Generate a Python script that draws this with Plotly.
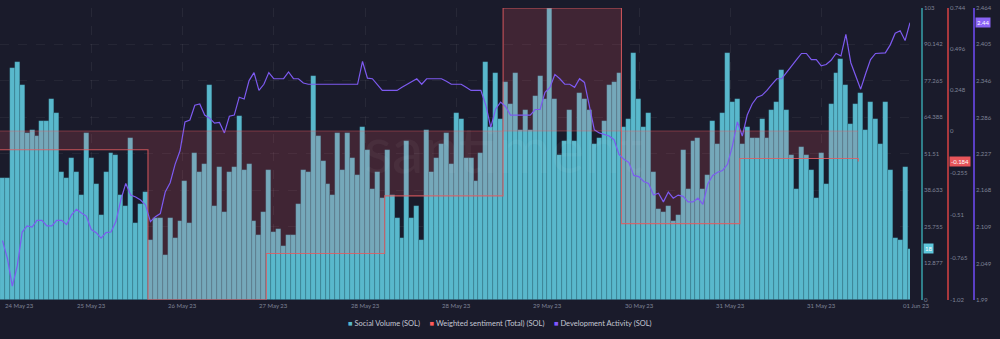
import pandas as pd
import plotly.graph_objects as go

# ---- data -------------------------------------------------------------
first_hour = "2023-05-24 18:00"

social_volume = [
    43, 43, 82, 84, 76, 59, 60, 58, 63, 63, 71, 66, 45, 43, 50, 45, 37, 59, 50, 41,
    30, 45, 52, 51, 37, 33, 57, 27, 34, 38, 21, 29, 29, 16, 29, 22, 28, 42, 27, 52,
    45, 48, 76, 33, 47, 31, 45, 47, 65, 46, 48, 28, 23, 31, 46, 24, 25, 19, 23, 23,
    34, 46, 45, 79, 58, 49, 41, 37, 59, 46, 59, 50, 44, 61, 53, 39, 45, 36, 53, 37,
    29, 22, 56, 29, 33, 21, 60, 45, 50, 55, 59, 48, 66, 64, 50, 50, 42, 52, 84, 61,
    80, 64, 77, 69, 80, 60, 67, 60, 72, 79, 71, 103, 71, 51, 56, 67, 56, 73, 71, 67,
    55, 57, 63, 76, 77, 80, 61, 64, 87, 71, 61, 66, 45, 32, 31, 33, 28, 30, 53, 39,
    56, 57, 39, 44, 63, 55, 66, 87, 70, 71, 55, 61, 57, 57, 64, 57, 67, 70, 81, 67,
    51, 39, 54, 51, 46, 36, 52, 41, 69, 80, 85, 76, 62, 69, 73, 60, 70, 64, 55, 70,
    46, 22, 21, 47, 18,
]

dev_activity = [
    2.086, 2.057, 2.012, 2.045, 2.100, 2.110, 2.108, 2.119, 2.119, 2.110,
    2.110, 2.119, 2.119, 2.112, 2.128, 2.137, 2.131, 2.126, 2.104, 2.099,
    2.090, 2.099, 2.100, 2.117, 2.152, 2.179, 2.160, 2.157, 2.152, 2.144,
    2.117, 2.125, 2.130, 2.165, 2.180, 2.210, 2.232, 2.279, 2.282, 2.306,
    2.308, 2.290, 2.285, 2.277, 2.278, 2.261, 2.288, 2.290, 2.319, 2.316,
    2.346, 2.359, 2.330, 2.340, 2.359, 2.349, 2.349, 2.349, 2.360, 2.349,
    2.349, 2.342, 2.340, 2.340, 2.340, 2.340, 2.340, 2.340, 2.340, 2.340,
    2.340, 2.340, 2.340, 2.377, 2.350, 2.349, 2.340, 2.330, 2.330, 2.330,
    2.330, 2.335, 2.340, 2.345, 2.349, 2.340, 2.349, 2.349, 2.349, 2.349,
    2.345, 2.340, 2.340, 2.340, 2.335, 2.330, 2.330, 2.330, 2.306, 2.270,
    2.300, 2.311, 2.304, 2.290, 2.290, 2.290, 2.290, 2.290, 2.299, 2.299,
    2.327, 2.335, 2.356, 2.349, 2.340, 2.340, 2.335, 2.349, 2.343, 2.303,
    2.266, 2.261, 2.259, 2.256, 2.250, 2.226, 2.218, 2.213, 2.192, 2.190,
    2.182, 2.179, 2.160, 2.163, 2.149, 2.165, 2.155, 2.160, 2.158, 2.149,
    2.149, 2.155, 2.145, 2.178, 2.192, 2.197, 2.200, 2.210, 2.240, 2.279,
    2.256, 2.290, 2.308, 2.319, 2.322, 2.330, 2.340, 2.349, 2.349, 2.360,
    2.370, 2.380, 2.390, 2.390, 2.380, 2.380, 2.370, 2.372, 2.379, 2.390,
    2.386, 2.421, 2.375, 2.353, 2.332, 2.357, 2.380, 2.390, 2.390, 2.391,
    2.404, 2.423, 2.427, 2.411, 2.440,
]

sentiment_days = ["2023-05-24", "2023-05-25", "2023-05-26", "2023-05-27", "2023-05-28",
                  "2023-05-29", "2023-05-30", "2023-05-31", "2023-06-01"]
sentiment = [-0.113, -0.113, -1.02, -0.740, -0.392, 0.744, -0.560, -0.166, -0.184]

date_labels = ["24 May 23", "25 May 23", "26 May 23", "27 May 23", "28 May 23", "28 May 23",
               "29 May 23", "30 May 23", "31 May 23", "31 May 23", "01 Jun 23"]

sv_ticks = [0, 12.877, 25.755, 38.633, 51.51, 64.388, 77.265, 90.142, 103]
sv_ticktext = ["0", "12.877", "25.755", "38.633", "51.51", "64.388", "77.265", "90.142", "103"]
ws_ticks = [-1.02, -0.765, -0.51, -0.255, 0, 0.248, 0.496, 0.744]
ws_ticktext = ["-1.02", "-0.765", "-0.51", "-0.255", "0", "0.248", "0.496", "0.744"]
da_ticks = [1.99, 2.049, 2.109, 2.168, 2.227, 2.286, 2.346, 2.405, 2.464]
da_ticktext = ["1.99", "2.049", "2.109", "2.168", "2.227", "2.286", "2.346", "2.405", "2.464"]

# ---- styling ----------------------------------------------------------
BG = "#1a1b2b"
CYAN = "#59b8cc"
PURPLE = "#7d5af0"
TICK_COLOR = "#7f8397"
FONT = "Lato"

W, H = 1000, 339
PLOT_RIGHT_PX = 910
PLOT_TOP_PX, PLOT_BOTTOM_PX = 4, 302
AXIS_X_PX = {"y": 922, "y2": 948, "y3": 974}
LABEL_STEP_PX = 91.3

HOUR = pd.Timedelta(hours=1)
HOUR_MS = 3600 * 1000
hours = pd.date_range(first_hour, periods=len(social_volume), freq="h")
hour_mid = hours + HOUR / 2
sent_x = pd.to_datetime(sentiment_days)

x_start = hours[0]
x_end = hours[-1] + HOUR / 2
span = x_end - x_start

fig = go.Figure()

fig.add_trace(go.Bar(
    x=hours, y=social_volume, name="Social Volume (SOL)",
    marker=dict(color=CYAN, line=dict(width=0.5, color="rgba(30,70,85,0.35)")),
    offset=0, width=HOUR_MS,
    yaxis="y", showlegend=False,
))

fig.add_trace(go.Scatter(
    x=sent_x, y=sentiment, name="Weighted sentiment (Total) (SOL)",
    mode="lines", line=dict(color="rgba(226,92,96,0.85)", width=1.1, shape="hv"),
    fill="tozeroy", fillcolor="rgba(255,88,100,0.17)",
    yaxis="y2", showlegend=False,
))

fig.add_trace(go.Scatter(
    x=hour_mid, y=dev_activity, name="Development Activity (SOL)",
    mode="lines", line=dict(color=PURPLE, width=1.2),
    yaxis="y3", showlegend=False,
))

# sentiment zero baseline, spanning the sentiment data only
fig.add_shape(type="line", xref="x", yref="y2",
              x0=sent_x[0], x1=sent_x[-1], y0=0, y1=0,
              line=dict(color="rgba(232,92,96,0.4)", width=1), layer="above")

y_dom = [(H - PLOT_BOTTOM_PX) / H, (H - PLOT_TOP_PX) / H]
tickfont = dict(family=FONT, size=6, color=TICK_COLOR)

grid_vals = [x_start + span * (k * LABEL_STEP_PX / PLOT_RIGHT_PX) for k in range(1, 10)]

fig.update_layout(
    width=W, height=H,
    margin=dict(l=0, r=0, t=0, b=0),
    paper_bgcolor=BG, plot_bgcolor=BG,
    bargap=0,
    showlegend=False,
    font=dict(family=FONT, color=TICK_COLOR),
    xaxis=dict(
        domain=[0, PLOT_RIGHT_PX / W], range=[x_start, x_end], type="date",
        tickvals=grid_vals, showticklabels=False, ticks="",
        showgrid=True, gridcolor="rgba(255,255,255,0.06)", griddash="dash", gridwidth=1,
        zeroline=False, showline=False,
    ),
    yaxis=dict(
        domain=y_dom, range=[0, 103], anchor="free", position=AXIS_X_PX["y"] / W, side="right",
        tickvals=sv_ticks, ticktext=sv_ticktext, tickfont=tickfont, ticks="",
        showline=True, linecolor="#2f7f8a", linewidth=1.5,
        showgrid=True, gridcolor="rgba(255,255,255,0.05)", griddash="dash",
        zeroline=False,
    ),
    yaxis2=dict(
        domain=y_dom, range=[-1.02, 0.744], overlaying="y", anchor="free",
        position=AXIS_X_PX["y2"] / W, side="right",
        tickvals=ws_ticks, ticktext=ws_ticktext, tickfont=tickfont, ticks="",
        showline=True, linecolor="#a8383d", linewidth=1.5,
        showgrid=False, zeroline=False,
    ),
    yaxis3=dict(
        domain=y_dom, range=[1.99, 2.464], overlaying="y", anchor="free",
        position=AXIS_X_PX["y3"] / W, side="right",
        tickvals=da_ticks, ticktext=da_ticktext, tickfont=tickfont, ticks="",
        showline=True, linecolor="#5a3fc4", linewidth=1.5,
        showgrid=False, zeroline=False,
    ),
)

# watermark
fig.add_annotation(text="santiment", xref="paper", yref="paper",
                   x=362 / W, y=(H - 148) / H, xanchor="left", yanchor="middle",
                   showarrow=False,
                   font=dict(family=FONT, size=64, color="rgba(255,255,255,0.045)"))

# date labels under the plot
label_y = (H - 308) / H
for k, text in enumerate(date_labels):
    if k == 0:
        xa, xp = "left", 3 / W
    elif k == len(date_labels) - 1:
        xa, xp = "right", 931 / W
    else:
        xa, xp = "center", k * LABEL_STEP_PX / W
    fig.add_annotation(text=text, xref="paper", yref="paper", x=xp, y=label_y,
                       xanchor=xa, yanchor="middle", showarrow=False,
                       font=dict(family=FONT, size=6, color=TICK_COLOR))

# legend row
sp = "&nbsp;" * 5
legend_html = (
    f"<span style='color:{CYAN}'>■</span> Social Volume (SOL){sp}"
    f"<span style='color:#ff5b5b'>■</span> Weighted sentiment (Total) (SOL){sp}"
    f"<span style='color:#8358ff'>■</span> Development Activity (SOL)"
)
fig.add_annotation(text=legend_html, xref="paper", yref="paper", x=0.5, y=(H - 326) / H,
                   xanchor="center", yanchor="middle", showarrow=False,
                   font=dict(family=FONT, size=7.5, color="#c4c7d3"))

# latest-value badges on each axis
badges = [
    ("y", social_volume[-1], f"{social_volume[-1]}", "#5ec8dd"),
    ("y2", sentiment[-1], f"{sentiment[-1]}", "#e8555a"),
    ("y3", dev_activity[-1], f"{dev_activity[-1]:.2f}", "#8a63f5"),
]
for axis, val, text, color in badges:
    fig.add_annotation(text=text, xref="paper", yref=axis, x=(AXIS_X_PX[axis] + 1) / W, y=val,
                       xanchor="left", yanchor="middle", showarrow=False,
                       bgcolor=color, borderpad=1,
                       font=dict(family=FONT, size=6, color="#ffffff"))

fig.write_html("out.html")
